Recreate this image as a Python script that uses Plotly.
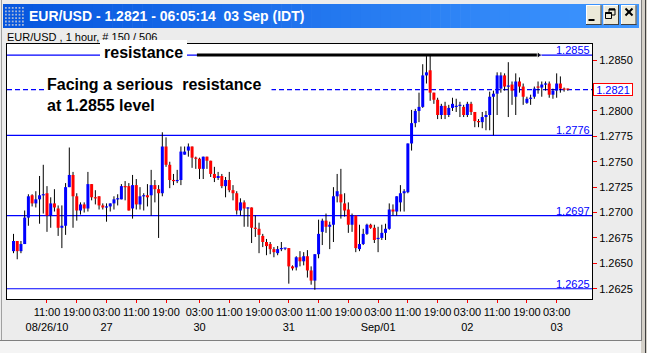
import plotly.graph_objects as go

# ---------------- data (EUR/USD, 1 hour bars) ----------------
opens = [1.2662, 1.2672, 1.2662, 1.2669, 1.2695, 1.2717, 1.2709, 1.2713, 1.2717, 1.2719,
         1.2697, 1.2709, 1.2704, 1.2685, 1.2687, 1.2725, 1.2737, 1.2716, 1.2702, 1.2708,
         1.2704, 1.2728, 1.2715, 1.2716, 1.2707, 1.2705, 1.2706, 1.2709, 1.2713, 1.2713,
         1.2726, 1.2726, 1.2704, 1.2727, 1.2708, 1.2716, 1.2717, 1.2717, 1.2727, 1.2723,
         1.2719, 1.2765, 1.2747, 1.2732, 1.2731, 1.2732, 1.2757, 1.2761, 1.2765, 1.2754,
         1.2753, 1.2743, 1.2755, 1.2751, 1.2738, 1.2734, 1.2736, 1.2726, 1.2732, 1.2722,
         1.2719, 1.2702, 1.2710, 1.2704, 1.2705, 1.2685, 1.2684, 1.2677, 1.2671, 1.2669,
         1.2664, 1.2660, 1.2664, 1.2665, 1.2665, 1.2647, 1.2646, 1.2656, 1.2652, 1.2657,
         1.2643, 1.2633, 1.2659, 1.2681, 1.2692, 1.2686, 1.2688, 1.2716, 1.2718, 1.2709,
         1.2703, 1.2688, 1.2697, 1.2664, 1.2669, 1.2679, 1.2688, 1.2685, 1.2674, 1.2675,
         1.2680, 1.2684, 1.2703, 1.2701, 1.2710, 1.2719, 1.2720, 1.2768, 1.2788, 1.2800,
         1.2804, 1.2835, 1.2840, 1.2818, 1.2811, 1.2796, 1.2805, 1.2796, 1.2803, 1.2804,
         1.2805, 1.2804, 1.2796, 1.2807, 1.2799, 1.2790, 1.2789, 1.2794, 1.2796, 1.2814,
         1.2817, 1.2822, 1.2835, 1.2824, 1.2826, 1.2814, 1.2829, 1.2824, 1.2808, 1.2812,
         1.2814, 1.2824, 1.2823, 1.2826, 1.2827, 1.2816, 1.2820, 1.2827, 1.2822, 1.2822]
highs = [1.2679, 1.2672, 1.2672, 1.2702, 1.2718, 1.2718, 1.2721, 1.2736, 1.2747, 1.2726,
         1.2715, 1.2723, 1.2707, 1.2707, 1.2729, 1.2764, 1.2740, 1.2719, 1.2710, 1.2710,
         1.2740, 1.2728, 1.2722, 1.2716, 1.2709, 1.2709, 1.2709, 1.2716, 1.2718, 1.2728,
         1.2731, 1.2729, 1.2737, 1.2733, 1.2725, 1.2719, 1.2728, 1.2742, 1.2732, 1.2727,
         1.2779, 1.2774, 1.2750, 1.2738, 1.2742, 1.2765, 1.2765, 1.2768, 1.2765, 1.2755,
         1.2754, 1.2755, 1.2755, 1.2751, 1.2745, 1.2740, 1.2738, 1.2735, 1.2740, 1.2727,
         1.2721, 1.2714, 1.2712, 1.2705, 1.2705, 1.2697, 1.2690, 1.2679, 1.2674, 1.2671,
         1.2666, 1.2667, 1.2671, 1.2665, 1.2665, 1.2648, 1.2657, 1.2662, 1.2661, 1.2663,
         1.2647, 1.2659, 1.2693, 1.2694, 1.2699, 1.2691, 1.2725, 1.2738, 1.2743, 1.2719,
         1.2710, 1.2699, 1.2697, 1.2688, 1.2684, 1.2689, 1.2689, 1.2688, 1.2686, 1.2688,
         1.2689, 1.2709, 1.2708, 1.2716, 1.2727, 1.2723, 1.2768, 1.2801, 1.2802, 1.2818,
         1.2846, 1.2854, 1.2855, 1.2818, 1.2813, 1.2807, 1.2809, 1.2806, 1.2813, 1.2812,
         1.2809, 1.2806, 1.2809, 1.2809, 1.2799, 1.2792, 1.2799, 1.2800, 1.2819, 1.2820,
         1.2838, 1.2838, 1.2837, 1.2848, 1.2829, 1.2837, 1.2833, 1.2827, 1.2814, 1.2816,
         1.2824, 1.2829, 1.2829, 1.2829, 1.2829, 1.2822, 1.2837, 1.2834, 1.2823, 1.2822]
lows = [1.2660, 1.2654, 1.2660, 1.2669, 1.2687, 1.2706, 1.2705, 1.2689, 1.2699, 1.2681,
        1.2685, 1.2701, 1.2677, 1.2665, 1.2678, 1.2725, 1.2685, 1.2692, 1.2698, 1.2700,
        1.2701, 1.2712, 1.2708, 1.2703, 1.2703, 1.2691, 1.2701, 1.2703, 1.2707, 1.2713,
        1.2712, 1.2702, 1.2694, 1.2703, 1.2703, 1.2702, 1.2706, 1.2697, 1.2710, 1.2675,
        1.2716, 1.2745, 1.2724, 1.2727, 1.2729, 1.2727, 1.2757, 1.2755, 1.2744, 1.2743,
        1.2733, 1.2733, 1.2743, 1.2735, 1.2730, 1.2732, 1.2724, 1.2715, 1.2720, 1.2712,
        1.2698, 1.2697, 1.2686, 1.2686, 1.2670, 1.2676, 1.2660, 1.2666, 1.2658, 1.2659,
        1.2656, 1.2658, 1.2662, 1.2663, 1.2630, 1.2643, 1.2643, 1.2647, 1.2648, 1.2636,
        1.2629, 1.2624, 1.2655, 1.2668, 1.2680, 1.2664, 1.2671, 1.2710, 1.2694, 1.2696,
        1.2680, 1.2681, 1.2661, 1.2662, 1.2668, 1.2678, 1.2684, 1.2670, 1.2661, 1.2673,
        1.2673, 1.2683, 1.2697, 1.2697, 1.2701, 1.2701, 1.2719, 1.2761, 1.2784, 1.2789,
        1.2803, 1.2827, 1.2810, 1.2807, 1.2792, 1.2792, 1.2792, 1.2794, 1.2800, 1.2799,
        1.2794, 1.2794, 1.2794, 1.2796, 1.2784, 1.2784, 1.2783, 1.2781, 1.2781, 1.2776,
        1.2796, 1.2818, 1.2820, 1.2794, 1.2806, 1.2796, 1.2818, 1.2806, 1.2807, 1.2806,
        1.2812, 1.2817, 1.2814, 1.2820, 1.2813, 1.2812, 1.2813, 1.2818, 1.2819, 1.2820]
closes = [1.2672, 1.2662, 1.2669, 1.2695, 1.2716, 1.2709, 1.2713, 1.2717, 1.2718, 1.2697,
          1.2709, 1.2705, 1.2685, 1.2687, 1.2725, 1.2737, 1.2716, 1.2702, 1.2708, 1.2704,
          1.2728, 1.2715, 1.2714, 1.2707, 1.2705, 1.2706, 1.2709, 1.2713, 1.2714, 1.2726,
          1.2725, 1.2702, 1.2727, 1.2708, 1.2716, 1.2717, 1.2715, 1.2727, 1.2723, 1.2719,
          1.2765, 1.2747, 1.2732, 1.2731, 1.2732, 1.2760, 1.2760, 1.2765, 1.2754, 1.2753,
          1.2743, 1.2755, 1.2751, 1.2738, 1.2734, 1.2736, 1.2726, 1.2732, 1.2722, 1.2719,
          1.2702, 1.2710, 1.2704, 1.2705, 1.2685, 1.2684, 1.2678, 1.2671, 1.2667, 1.2664,
          1.2661, 1.2664, 1.2665, 1.2665, 1.2647, 1.2645, 1.2656, 1.2652, 1.2657, 1.2643,
          1.2633, 1.2659, 1.2679, 1.2692, 1.2686, 1.2688, 1.2716, 1.2721, 1.2710, 1.2702,
          1.2688, 1.2697, 1.2665, 1.2669, 1.2679, 1.2688, 1.2685, 1.2673, 1.2675, 1.2680,
          1.2684, 1.2703, 1.2701, 1.2716, 1.2719, 1.2721, 1.2768, 1.2788, 1.2800, 1.2804,
          1.2835, 1.2838, 1.2818, 1.2811, 1.2796, 1.2805, 1.2796, 1.2803, 1.2807, 1.2805,
          1.2806, 1.2796, 1.2807, 1.2799, 1.2790, 1.2789, 1.2794, 1.2796, 1.2814, 1.2817,
          1.2835, 1.2835, 1.2824, 1.2825, 1.2820, 1.2829, 1.2824, 1.2814, 1.2812, 1.2813,
          1.2822, 1.2823, 1.2826, 1.2827, 1.2816, 1.2820, 1.2827, 1.2822, 1.2821, 1.2821]

tick_bars = [9, 17, 25, 33, 41, 50, 58, 66, 74, 82, 90, 98, 106, 114, 122, 130, 138, 146]
tick_times = ["11:00", "19:00", "03:00", "11:00", "19:00", "03:00", "11:00", "19:00", "03:00",
              "11:00", "19:00", "03:00", "11:00", "19:00", "03:00", "11:00", "19:00", "03:00"]
tick_dates = ["08/26/10", "", "27", "", "", "30", "", "", "31",
              "", "", "Sep/01", "", "", "02", "", "", "03"]
price_ticks = [1.2625, 1.2650, 1.2675, 1.2700, 1.2725, 1.2750, 1.2775, 1.2800, 1.2825, 1.2850]

resistance_level = 1.2855
support_levels = [1.2776, 1.2697, 1.2625]
last_price = 1.2821
trend_bars = [49.3, 141.2]

title_text = "EUR/USD - 1.2821 - 06:05:14&nbsp; 03 Sep (IDT)"
subtitle_text = "EUR/USD , 1 hour, # 150 / 506"

# ---------------- geometry helpers ----------------
W, H = 647, 353
ML, MR, MT, MB = 7, 55, 44, 54
PW = W - ML - MR
PH = H - MT - MB
FONT = "Liberation Sans, Arial, sans-serif"


def pxx(xp):
    return (xp - ML) / PW


def pxy(yp):
    return (H - MB - yp) / PH


bars = list(range(len(opens)))

# wicks
wx, wy = [], []
for i, h, l in zip(bars, highs, lows):
    wx += [i, i, None]
    wy += [l, h, None]

# bodies
ux, uy, dx, dy = [], [], [], []
MINB = 0.00012
for i, o, c in zip(bars, opens, closes):
    lo, hi = min(o, c), max(o, c)
    if hi - lo < MINB:
        mid = (hi + lo) / 2
        lo, hi = mid - MINB / 2, mid + MINB / 2
    if c >= o:
        ux += [i, i, None]
        uy += [lo, hi, None]
    else:
        dx += [i, i, None]
        dy += [lo, hi, None]

fig = go.Figure()
fig.add_trace(go.Scatter(x=wx, y=wy, mode="lines", line=dict(color="black", width=1),
                         hoverinfo="skip"))
fig.add_trace(go.Scatter(x=ux, y=uy, mode="lines", line=dict(color="#0000FF", width=3),
                         hoverinfo="skip"))
fig.add_trace(go.Scatter(x=dx, y=dy, mode="lines", line=dict(color="#FF0000", width=3),
                         hoverinfo="skip"))
# resistance trend line
fig.add_trace(go.Scatter(x=trend_bars, y=[resistance_level, resistance_level],
                         mode="lines+markers",
                         line=dict(color="black", width=3),
                         marker=dict(symbol="triangle-right", size=[0, 6], color="black"),
                         hoverinfo="skip"))

shapes = []
# horizontal level lines
for lv in [resistance_level] + support_levels:
    shapes.append(dict(type="line", xref="paper", x0=0, x1=1, yref="y", y0=lv, y1=lv,
                       line=dict(color="#0000FF", width=1.2), layer="below"))
shapes.append(dict(type="line", xref="paper", x0=0, x1=1, yref="y", y0=last_price, y1=last_price,
                   line=dict(color="#0000FF", width=1.2, dash="5px,3px"), layer="below"))

# ---- window chrome ----
def rect(x0, y0, x1, y1, fill, line=None, lw=0):
    d = dict(type="rect", xref="paper", yref="paper", x0=pxx(x0), x1=pxx(x1),
             y0=pxy(y1), y1=pxy(y0), fillcolor=fill, layer="above",
             line=dict(width=lw, color=line or fill))
    shapes.append(d)


def seg(x0, y0, x1, y1, color, w=1):
    shapes.append(dict(type="line", xref="paper", yref="paper", x0=pxx(x0), x1=pxx(x1),
                       y0=pxy(y0), y1=pxy(y1), line=dict(color=color, width=w), layer="above"))


# title bar gradient
c0, c1 = (6, 86, 222), (62, 150, 255)
N = 64
tx0, tx1 = 3, 639
for k in range(N):
    t = k / (N - 1)
    col = "rgb(%d,%d,%d)" % tuple(round(a + (b - a) * t) for a, b in zip(c0, c1))
    xa = tx0 + (tx1 - tx0) * k / N
    xb = tx0 + (tx1 - tx0) * (k + 1) / N + 0.6
    rect(xa, 4, min(xb, tx1), 28, col)

# title icon (dotted grid)
for r in range(6):
    for c in range(6):
        rect(5 + c * 3.4, 7 + r * 3.4, 6.8 + c * 3.4, 8.8 + r * 3.4, "#A8B8D8")

# buttons
for bx in [586, 603.5, 621]:
    rect(bx, 5, bx + 15.5, 25, "#ECE9D8")
    seg(bx, 5.5, bx + 15.5, 5.5, "#FFFFFF")
    seg(bx + 0.5, 5, bx + 0.5, 25, "#FFFFFF")
    seg(bx, 24.5, bx + 15.5, 24.5, "#404040")
    seg(bx + 15, 5, bx + 15, 25, "#404040")
rect(588.5, 19, 594.5, 21, "black")
rect(609, 9, 615, 15, "#ECE9D8", "black", 1)
seg(609, 9.5, 615, 9.5, "black", 2)
rect(605.5, 12.5, 611.5, 18.5, "#ECE9D8", "black", 1)
seg(605.5, 13, 611.5, 13, "black", 2)
seg(625.5, 8.5, 632.5, 15.5, "black", 2)
seg(625.5, 15.5, 632.5, 8.5, "black", 2)

# frame
rect(641, 0, 647, 353, "#D4D0C8")
rect(0, 341, 641, 353, "#F4F4F4")
seg(1.5, 0, 1.5, 341, "#A0A0A0")
seg(641.5, 0, 641.5, 341, "#808080")
seg(645.5, 0, 645.5, 353, "#404040")
seg(0, 340.5, 641.5, 340.5, "#808080")

annotations = []
annotations.append(dict(xref="paper", yref="paper", x=pxx(27), y=pxy(16.5), xanchor="left",
                        yanchor="middle", showarrow=False, text="<b>" + title_text + "</b>",
                        font=dict(family=FONT, size=14, color="white")))
annotations.append(dict(xref="paper", yref="paper", x=pxx(5), y=pxy(36.5), xanchor="left",
                        yanchor="middle", showarrow=False, text=subtitle_text,
                        font=dict(family=FONT, size=11, color="black")))
# resistance tag on the line
annotations.append(dict(xref="paper", yref="paper", x=pxx(143.5), y=pxy(52), xanchor="center",
                        yanchor="middle", showarrow=False, text="<b>resistance</b>",
                        bgcolor="white", borderpad=3, borderwidth=1, bordercolor="white",
                        font=dict(family=FONT, size=16, color="black")))
# comment text
annotations.append(dict(xref="paper", yref="paper", x=pxx(46), y=pxy(95), xanchor="left",
                        yanchor="middle", showarrow=False, align="left", width=224,
                        text="<b>Facing a serious&nbsp; resistance<br>at 1.2855 level</b>",
                        bgcolor="white", borderpad=0,
                        font=dict(family=FONT, size=16, color="black")))
# level labels
for lv in [resistance_level] + support_levels:
    annotations.append(dict(xref="paper", yref="y", x=1, y=lv, xanchor="right", yanchor="bottom",
                            xshift=0, yshift=-3, showarrow=False, text="%.4f" % lv,
                            font=dict(family=FONT, size=11, color="#0000FF")))
# last price box (covers the 1.2825 axis label, as in the source)
annotations.append(dict(xref="paper", yref="y", x=1, y=last_price, xanchor="left",
                        yanchor="middle", xshift=1, showarrow=False, text="%.4f" % last_price,
                        bgcolor="white", bordercolor="#FF0000", borderwidth=1, borderpad=0,
                        width=38, height=11,
                        font=dict(family=FONT, size=11, color="#0000FF")))

ticktext = [t + ("<br>" + d if d else "") for t, d in zip(tick_times, tick_dates)]
ytext = ["" if abs(v - last_price) < 0.0006 else "%.4f" % v for v in price_ticks]

fig.update_layout(
    width=W, height=H,
    margin=dict(l=ML, r=MR, t=MT, b=MB, pad=0, autoexpand=False),
    paper_bgcolor="#ECECEC",
    plot_bgcolor="white",
    showlegend=False,
    font=dict(family=FONT, size=11, color="black"),
    shapes=shapes,
    annotations=annotations,
    xaxis=dict(range=[-1.75, 155.5], tickmode="array", tickvals=tick_bars, ticktext=ticktext,
               ticks="outside", ticklen=3, tickcolor="#FF0000", tickwidth=1, tickangle=0,
               showgrid=False, zeroline=False, showline=True, mirror=True, automargin=False,
               linecolor="black", linewidth=1, tickfont=dict(size=11, color="black"),
               fixedrange=True),
    yaxis=dict(range=[1.26149, 1.28659], side="right", tickmode="array", tickvals=price_ticks,
               ticktext=ytext, automargin=False,
               ticks="outside", ticklen=4, tickcolor="#FF0000", tickwidth=1,
               showgrid=False, zeroline=False, showline=True, mirror=True,
               linecolor="black", linewidth=1, tickfont=dict(size=11, color="black"),
               fixedrange=True),
)

fig.write_html("out.html")
